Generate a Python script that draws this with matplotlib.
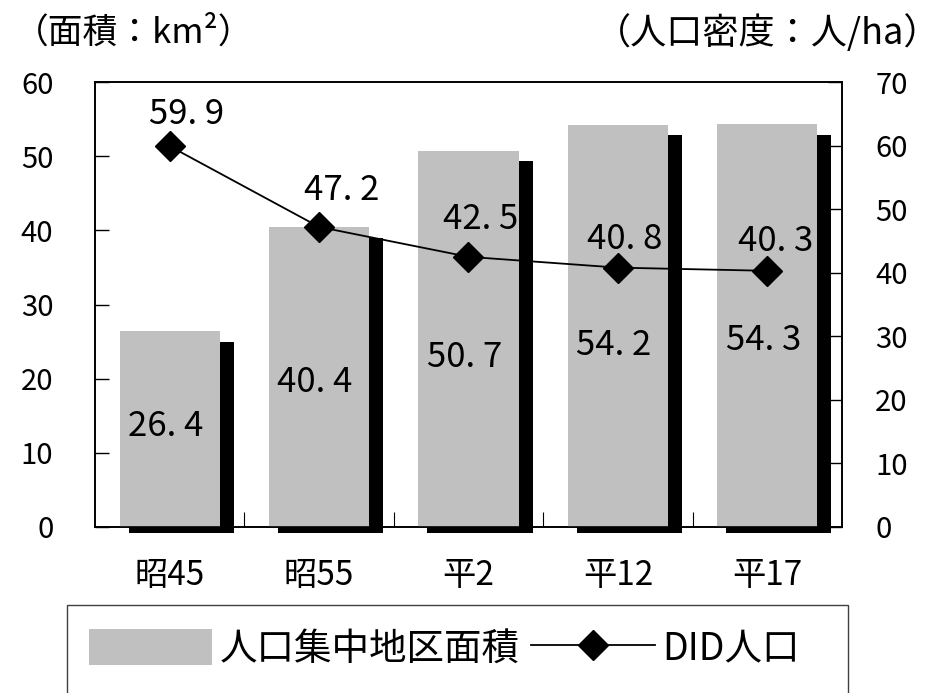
import numpy as np
import matplotlib
matplotlib.use("Agg")
import matplotlib.pyplot as plt
from matplotlib.patches import Patch, Rectangle
from matplotlib.lines import Line2D

plt.rcParams["font.family"] = ["Noto Sans CJK JP", "DejaVu Sans"]

# data
years = ["昭45", "昭55", "平2", "平12", "平17"]
area_km2 = [26.4, 40.4, 50.7, 54.2, 54.3]
density = [59.9, 47.2, 42.5, 40.8, 40.3]
area_label = "人口集中地区面積"
density_label = "DID人口"

# label placement (style only)
bar_label_y = [13.5, 19.5, 22.9, 24.5, 25.2]
line_label_offsets = [(12, 23), (16, 26), (9, 27), (5, 20), (6, 21)]

BAR_GRAY = "#c0c0c0"
W, H = 953, 693

fig = plt.figure(figsize=(W / 100, H / 100), dpi=100)
ax = fig.add_axes([95 / W, 1 - 527 / H, (842 - 95) / W, (527 - 82) / H])
ax2 = ax.twinx()

x = np.arange(len(years))
bw = 0.67

# black shadow behind each bar
shadow = ax.bar(x + 0.077, np.array(area_km2) - 1.4 + 0.8, bottom=-0.8,
                width=bw + 0.034, color="black", zorder=2.6)
for p in shadow:
    p.set_clip_on(False)
ax.bar(x, area_km2, width=bw, color=BAR_GRAY, zorder=2.7)

for xi, v, ly in zip(x, area_km2, bar_label_y):
    ax.annotate(f"{v:.1f}".replace(".", ". "), (xi, ly), xytext=(-3, 0),
                textcoords="offset points", ha="center", va="center",
                fontsize=25, zorder=5)

ax.set_xlim(-0.5, len(years) - 0.5)
ax.set_ylim(0, 60)
ax.set_yticks(range(0, 61, 10))
ax.set_xticks(x)
ax.set_xticklabels(years)
ax.set_xticks(x[:-1] + 0.5, minor=True)
ax.tick_params(axis="x", which="major", length=0, pad=22, labelsize=24)
ax.tick_params(axis="x", which="minor", direction="in", length=11, width=0.8)
ax.tick_params(axis="y", direction="in", length=10, width=1, pad=30, labelsize=21)

ax2.plot(x, density, color="black", lw=1.3, marker="D", markersize=15, zorder=4)
for xi, v, off in zip(x, density, line_label_offsets):
    ax2.annotate(f"{v:.1f}".replace(".", ". "), (xi, v), xytext=off,
                 textcoords="offset points", ha="center", va="center",
                 fontsize=25, zorder=5)
ax2.set_ylim(0, 70)
ax2.set_yticks(range(0, 71, 10))
ax2.tick_params(axis="y", direction="in", length=10, width=1, pad=24, labelsize=21)

for a in (ax, ax2):
    for s in a.spines.values():
        s.set_linewidth(1.2)
        s.set_color("black")

fig.text(14 / W, 1 - 33 / H, "（面積：km²）", ha="left", va="center", fontsize=25)
fig.text(940 / W, 1 - 33 / H, "（人口密度：人/ha）", ha="right", va="center", fontsize=26)

# legend
handles = [Patch(facecolor=BAR_GRAY, edgecolor="none"),
           Line2D([], [], color="black", lw=1.3, marker="D", markersize=15)]
fig.legend(handles, [area_label, density_label], loc="center left",
           bbox_to_anchor=(70 / W, 1 - 649 / H), ncol=2, frameon=False,
           fontsize=27, handlelength=3.3, handleheight=1.1,
           handletextpad=0.2, columnspacing=0.3, borderpad=0)
fig.add_artist(Rectangle((67 / W, -0.02), (848 - 67) / W, (693 - 605) / H + 0.02,
                         transform=fig.transFigure, fill=False,
                         edgecolor="#404040", lw=1))

fig.savefig("out.png", dpi=100)
